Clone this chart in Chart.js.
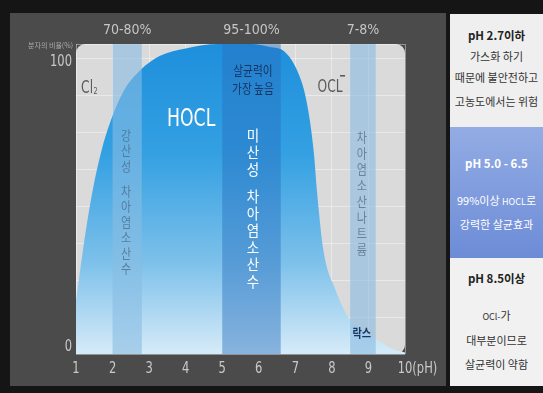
<!DOCTYPE html>
<html>
<head>
<meta charset="utf-8">
<script src="https://cdn.jsdelivr.net/npm/chart.js@4.4.1/dist/chart.umd.min.js"></script>
<style>
html, body { margin: 0; padding: 0; background: #151515; width: 543px; height: 393px; overflow: hidden; }
#panel { position: absolute; left: 10px; top: 13px; width: 436px; height: 373px; background: #4b4b4b; }
#c { position: absolute; left: 0; top: 0; }
#side { position: absolute; left: 450px; top: 14px; width: 93px; height: 372px; font-family: "Noto Sans CJK KR", sans-serif; font-size: 11px; color: #333; }
.sec { position: absolute; left: 0; width: 93px; }
.ln { position: absolute; left: 0; width: 93px; text-align: center; line-height: 14px; white-space: nowrap; }
.hd { font-weight: bold; color: #222; font-size: 11.5px; }
.sm { font-size: 9px; }
</style>
</head>
<body>
<div id="panel"></div>
<canvas id="c" width="543" height="393"></canvas>
<div id="side">
  <div class="sec" style="top:0;height:113px;background:#efefef;">
    <div class="ln hd" style="top:14px;">pH 2.7이하</div>
    <div class="ln" style="top:35px;">가스화 하기</div>
    <div class="ln" style="top:56px;">때문에 불안전하고</div>
    <div class="ln" style="top:80px;">고농도에서는 위험</div>
  </div>
  <div class="sec" style="top:113px;height:131px;background:linear-gradient(#93ace4,#6d8cd7);color:#fff;">
    <div class="ln hd" style="top:29px;color:#fff;">pH 5.0 - 6.5</div>
    <div class="ln" style="top:66px;">99%이상 <span class="sm">HOCL</span>로</div>
    <div class="ln" style="top:90px;">강력한 살균효과</div>
  </div>
  <div class="sec" style="top:244px;height:128px;background:#f1f1f1;">
    <div class="ln hd" style="top:13px;">pH 8.5이상</div>
    <div class="ln" style="top:50px;"><span class="sm">OCl-</span>가</div>
    <div class="ln" style="top:75px;">대부분이므로</div>
    <div class="ln" style="top:99px;">살균력이 약함</div>
  </div>
</div>
<script>
// HOCL share of free chlorine (%), by pH
var phValues    = [1.0, 1.2, 1.45, 1.7, 1.95, 2.3, 2.75, 3.3, 4.0, 4.9, 5.8, 6.3, 6.7, 7.05, 7.3, 7.5, 7.6, 7.77, 8.1, 8.5, 9.0, 9.25, 9.7, 10.0];
var hoclPercent = [18, 36, 55, 69, 79, 89, 96, 101, 103.5, 105, 105, 104, 102.5, 96, 86, 69, 54, 35, 21.7, 11.5, 6.5, 4.7, 1.4, 0.5];

var xTickValues = [1, 2, 3, 4, 5, 6, 7, 8, 9, 10];
var xTickLabels = ['1', '2', '3', '4', '5', '6', '7', '8', '9', '10(pH)'];
var yTickValues = [0, 100];
var yTickLabels = ['0', '100'];

// shaded pH bands and their ratio labels
var bandStart  = [2.0, 5.0, 8.5];
var bandEnd    = [2.8, 6.6, 9.2];
var bandLabels = ['70-80%', '95-100%', '7-8%'];
var bandColors = ['rgba(137,189,227,0.6)', 'rgba(40,110,190,0.45)', 'rgba(137,189,227,0.6)'];

var NARROW = "'Liberation Sans Narrow', 'DejaVu Sans Condensed', sans-serif";
var KR = "'Noto Sans CJK KR', sans-serif";

function squeezeText(ctx, text, px, py, sx) {
	ctx.save();
	ctx.translate(px, py);
	ctx.scale(sx, 1);
	ctx.fillText(text, 0, 0);
	ctx.restore();
}

// stacked vertical text, a space adds a small gap
function verticalText(ctx, text, cx, startY, step, sx) {
	var yy = startY;
	for (var i = 0; i < text.length; i++) {
		var ch = text[i];
		if (ch == ' ') { yy += step * 0.6; continue; }
		squeezeText(ctx, ch, cx, yy, sx);
		yy += step;
	}
}

var sketchPlugin = {
	id: 'sketch',
	beforeDraw: function (chart) {
		var ctx = chart.ctx, a = chart.chartArea;
		ctx.save();
		ctx.fillStyle = '#dadada';
		ctx.beginPath();
		ctx.roundRect(a.left, a.top, a.right - a.left, a.bottom - a.top, [9, 9, 9, 0]);
		ctx.fill();
		ctx.restore();
	},
	afterDatasetsDraw: function (chart) {
		var ctx = chart.ctx, a = chart.chartArea;
		var x = chart.scales.x, y = chart.scales.y;
		ctx.save();

		// bands over the curve
		for (var i = 0; i < bandStart.length; i++) {
			var x0 = x.getPixelForValue(bandStart[i]);
			var x1 = x.getPixelForValue(bandEnd[i]);
			ctx.fillStyle = bandColors[i];
			ctx.fillRect(x0, a.top, x1 - x0, a.bottom - a.top);
		}

		// band labels above the plot
		ctx.textAlign = 'center';
		ctx.textBaseline = 'middle';
		ctx.fillStyle = '#c6c6c6';
		ctx.font = '14px ' + NARROW;
		for (var j = 0; j < bandLabels.length; j++) {
			var cx = x.getPixelForValue((bandStart[j] + bandEnd[j]) / 2);
			ctx.fillText(bandLabels[j], cx, a.top - 14);
		}

		// x tick labels
		ctx.font = '16px ' + NARROW;
		ctx.fillStyle = '#c9c9c9';
		for (var k = 0; k < xTickValues.length; k++) {
			var px = x.getPixelForValue(xTickValues[k]);
			var lbl = xTickLabels[k];
			if (lbl.length > 2) {
				ctx.textAlign = 'left';
				var w = ctx.measureText('10').width * 0.8;
				squeezeText(ctx, lbl, px - w / 2, a.bottom + 15, 0.8);
				ctx.textAlign = 'center';
			} else {
				squeezeText(ctx, lbl, px, a.bottom + 15, 0.8);
			}
		}

		// y labels
		ctx.textAlign = 'right';
		for (var m = 0; m < yTickValues.length; m++) {
			var py = y.getPixelForValue(yTickValues[m]);
			squeezeText(ctx, yTickLabels[m], a.left - 4, yTickValues[m] == 0 ? py - 7 : py + 3, 0.8);
		}
		ctx.font = '7px ' + KR;
		ctx.fillStyle = '#aaaaaa';
		ctx.fillText('분자의 비율(%)', a.left - 3, a.top + 1);

		// species names
		ctx.textAlign = 'center';
		ctx.fillStyle = '#ffffff';
		ctx.font = '24px ' + NARROW;
		squeezeText(ctx, 'HOCL', x.getPixelForValue(4.15), y.getPixelForValue(79.3), 0.8);

		ctx.fillStyle = '#5c5c5c';
		ctx.textAlign = 'left';
		ctx.font = '17px ' + NARROW;
		var clx = x.getPixelForValue(1.14), cly = y.getPixelForValue(89.8);
		squeezeText(ctx, 'Cl', clx, cly, 0.8);
		var clw = ctx.measureText('Cl').width * 0.8;
		ctx.font = '9px ' + NARROW;
		squeezeText(ctx, '2', clx + clw + 0.5, cly + 3, 0.8);

		ctx.textAlign = 'center';
		ctx.font = '17px ' + NARROW;
		var ox = x.getPixelForValue(7.95), oy = y.getPixelForValue(90.1);
		squeezeText(ctx, 'OCL', ox, oy, 0.8);
		ctx.fillRect(ox + 10, oy - 13, 5, 1.6);

		// notes
		ctx.fillStyle = '#173661';
		ctx.font = '13px ' + KR;
		var nx = x.getPixelForValue(5.84);
		squeezeText(ctx, '살균력이', nx, y.getPixelForValue(96.2), 0.82);
		squeezeText(ctx, '가장 높음', nx, y.getPixelForValue(90.1), 0.82);

		ctx.font = 'bold 12px ' + KR;
		ctx.fillStyle = '#1a3560';
		squeezeText(ctx, '락스', x.getPixelForValue(8.82), y.getPixelForValue(6.8), 0.85);

		// vertical names of the solutions
		ctx.font = '13px ' + KR;
		ctx.fillStyle = 'rgba(80,110,140,0.8)';
		verticalText(ctx, '강산성 차아염소산수', x.getPixelForValue(2.37), 135, 15.5, 0.85);
		ctx.fillStyle = 'rgba(95,115,135,0.85)';
		verticalText(ctx, '차아염소산나트륨', x.getPixelForValue(8.82), 137, 16, 0.85);
		ctx.font = '15px ' + KR;
		ctx.fillStyle = '#ffffff';
		verticalText(ctx, '미산성 차아염소산수', x.getPixelForValue(5.84), 135, 17, 0.9);

		ctx.restore();
	}
};

var ctx = document.getElementById('c');
var hoclChart = new Chart(ctx, {
	type: 'line',
	data: {
		datasets: [{
			label: 'HOCL',
			data: phValues.map(function (v, i) { return { x: v, y: hoclPercent[i] }; }),
			fill: 'origin',
			borderWidth: 0,
			borderColor: 'rgba(0,0,0,0)',
			pointRadius: 0,
			cubicInterpolationMode: 'monotone',
			backgroundColor: function (c) {
				var a = c.chart.chartArea;
				if (!a) { return '#3a9fe0'; }
				var g = c.chart.ctx.createLinearGradient(0, a.top, 0, a.bottom);
				g.addColorStop(0, '#1e8fdc');
				g.addColorStop(0.35, '#33a0e2');
				g.addColorStop(0.7, '#7cc0ea');
				g.addColorStop(1, '#d6ebf8');
				return g;
			}
		}]
	},
	options: {
		responsive: false,
		devicePixelRatio: 1,
		animation: false,
		layout: { padding: { left: 76, right: 138, top: 44, bottom: 39 } },
		plugins: { legend: { display: false }, tooltip: { enabled: false } },
		scales: {
			x: {
				type: 'linear', min: 1, max: 10,
				ticks: { display: false, stepSize: 1 },
				grid: { color: 'rgba(255,255,255,0.4)', drawTicks: false },
				border: { display: false }
			},
			y: {
				min: 0, max: 105,
				ticks: { display: false, stepSize: 12.5 },
				grid: { color: 'rgba(255,255,255,0.4)', drawTicks: false },
				border: { display: false }
			}
		}
	},
	plugins: [sketchPlugin]
});
</script>
</body>
</html>
